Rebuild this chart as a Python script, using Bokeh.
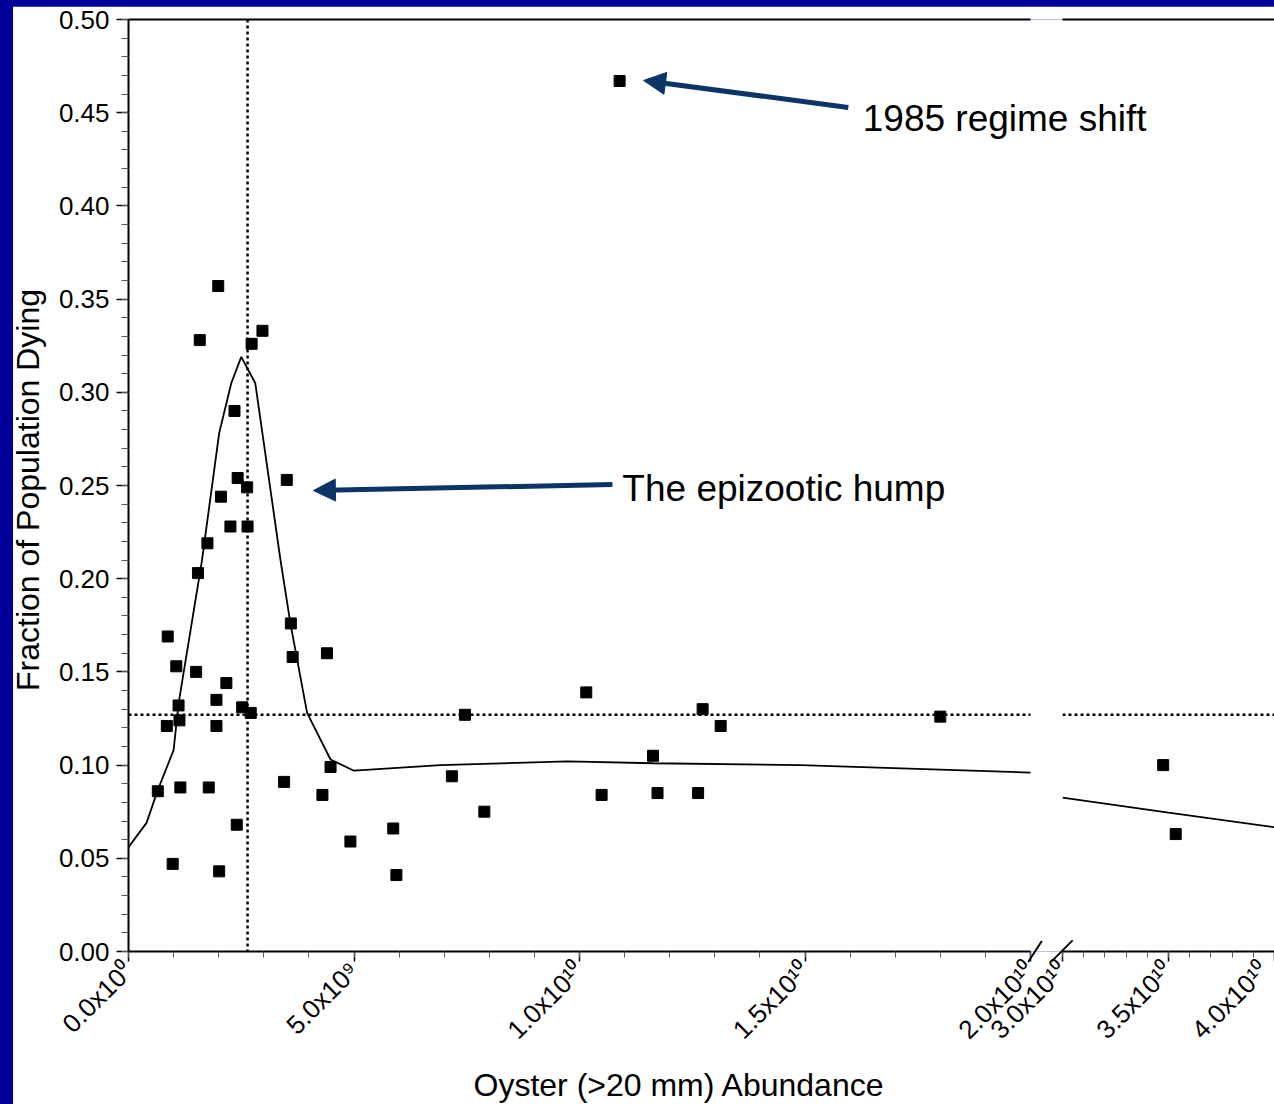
import math
from bokeh.plotting import figure
from bokeh.models import (Span, Label, Arrow, NormalHead, LinearAxis, FixedTicker, Range1d,
                          Title, Div)
from bokeh.layouts import row
from bokeh.embed import file_html
from bokeh.resources import INLINE

# ---------------- data (abundance in units of 1e9 oysters) ----------------
abundance_low = [1.99, 1.58, 2.97, 2.73, 2.35, 2.42, 2.63, 3.51, 2.05, 2.26,
                 2.64, 1.75, 1.54, 0.87, 3.60, 3.64, 4.40, 1.06, 1.50, 2.17,
                 1.95, 1.11, 2.52, 2.71, 1.13, 0.85, 1.95, 4.48, 0.65, 1.15,
                 1.78, 3.45, 4.30, 2.40, 4.92, 0.98, 2.01, 10.15, 7.46, 12.73,
                 13.13, 11.63, 7.17, 10.49, 11.73, 12.63, 7.89, 5.87, 5.94, 10.89,
                 18.00]
fraction_low = [0.357, 0.328, 0.333, 0.326, 0.290, 0.254, 0.249, 0.253, 0.244, 0.228,
                0.228, 0.219, 0.203, 0.169, 0.176, 0.158, 0.160, 0.153, 0.150, 0.144,
                0.135, 0.132, 0.131, 0.128, 0.124, 0.121, 0.121, 0.099, 0.086, 0.088,
                0.088, 0.091, 0.084, 0.068, 0.059, 0.047, 0.043, 0.139, 0.127, 0.130,
                0.121, 0.105, 0.094, 0.084, 0.085, 0.085, 0.075, 0.066, 0.041, 0.467,
                0.126]
abundance_high = [34.75, 35.34]
fraction_high = [0.100, 0.063]

model_x_low = [0.0, 0.40, 0.64, 1.00, 1.11, 1.63, 2.01, 2.28, 2.50, 2.81,
               3.37, 3.59, 3.96, 4.48, 5.00, 6.92, 9.73, 11.64, 14.90, 20.0]
model_y_low = [0.056, 0.069, 0.086, 0.108, 0.133, 0.210, 0.278, 0.305, 0.319, 0.305,
               0.210, 0.176, 0.128, 0.103, 0.097, 0.100, 0.102, 0.101, 0.100, 0.096]
model_x_high = [30.0, 35.0, 40.0]
model_y_high = [0.0825, 0.0745, 0.0667]

mean_abundance = 2.64   # vertical dotted line
mean_fraction = 0.127   # horizontal dotted line

low_axis_bounds = (0, 20)
high_axis_bounds = (30, 40)
x_ticks_low = [0, 5, 10, 15, 20]
x_labels_low = ["0.0x10\u2070", "5.0x10\u2079", "1.0x10\u00b9\u2070", "1.5x10\u00b9\u2070", "2.0x10\u00b9\u2070"]
x_ticks_high = [30, 35, 40]
x_labels_high = ["3.0x10\u00b9\u2070", "3.5x10\u00b9\u2070", "4.0x10\u00b9\u2070"]
y_ticks = [0.0, 0.05, 0.10, 0.15, 0.20, 0.25, 0.30, 0.35, 0.40, 0.45, 0.50]
y_labels = ["0.00", "0.05", "0.10", "0.15", "0.20", "0.25", "0.30", "0.35", "0.40", "0.45", "0.50"]

# ---------------- style / layout ----------------
FONT = "Liberation Sans"
NAVY = "#000099"
ARROW = "#0a3566"
TICK_FONT = "26px"
LOW_PX = 902            # pixel length of the 0 - 2e10 axis segment
FULL_PX = 1146          # frame from left axis to right window edge
HIGH_PX = 212           # pixel length of the 3e10 - 4e10 axis segment
PAGE_W = 1274


def style_axis(ax):
    ax.axis_line_color = "black"
    ax.axis_line_width = 2
    ax.major_tick_line_color = "black"
    ax.major_tick_line_width = 1.5
    ax.minor_tick_line_color = "#555555"
    ax.minor_tick_line_width = 1
    ax.major_tick_in = 0
    ax.minor_tick_in = 0
    ax.major_label_text_font = FONT
    ax.major_label_text_font_size = TICK_FONT
    ax.major_label_text_color = "black"


def top_line(p, bounds):
    ax = LinearAxis(ticker=FixedTicker(ticks=[]), bounds=bounds)
    ax.axis_line_color = "black"
    ax.axis_line_width = 2
    ax.major_tick_line_color = None
    ax.minor_tick_line_color = None
    ax.major_label_text_font_size = "0px"
    p.add_layout(ax, "above")


common = dict(frame_height=932, y_range=Range1d(0, 0.5), output_backend="svg",
              toolbar_location=None, min_border_top=13, min_border_bottom=153,
              outline_line_color=None)

# ---------------- left (0 – 2e10) panel ----------------
x_low_end = low_axis_bounds[1] * FULL_PX / LOW_PX
left = figure(frame_width=FULL_PX, x_range=Range1d(0, x_low_end), min_border_left=128,
              min_border_right=0, background_fill_color="white",
              border_fill_color="white", margin=(6, 0, 0, 0), **common)
left.grid.visible = False

xa = left.below[0]
style_axis(xa)
xa.bounds = low_axis_bounds
xa.ticker = FixedTicker(ticks=x_ticks_low, minor_ticks=list(range(0, 21)))
xa.major_label_overrides = {t: l for t, l in zip(x_ticks_low, x_labels_low)}
xa.major_label_orientation = math.pi / 4
xa.major_tick_out = 10
xa.minor_tick_out = 6

ya = left.left[0]
style_axis(ya)
ya.ticker = FixedTicker(ticks=y_ticks, minor_ticks=[i / 100 for i in range(51)])
ya.major_label_overrides = {t: l for t, l in zip(y_ticks, y_labels)}
ya.major_tick_out = 12
ya.minor_tick_out = 7
ya.major_label_standoff = 7
ya.axis_label = "Fraction  of Population Dying"
ya.axis_label_text_font = FONT
ya.axis_label_text_font_size = "32px"
ya.axis_label_text_font_style = "normal"
ya.axis_label_text_color = "black"
ya.axis_label_standoff = 10
top_line(left, low_axis_bounds)

left.add_layout(Title(text="Oyster (>20 mm) Abundance", align="left", offset=345,
                      text_font=FONT, text_font_size="32px", text_font_style="normal",
                      text_color="black", standoff=12), "below")

left.add_layout(Span(location=mean_abundance, dimension="height", line_color="black",
                     line_width=2.5, line_dash="3 3"))
left.line(list(low_axis_bounds), [mean_fraction, mean_fraction], line_color="black",
          line_width=2.5, line_dash="3 3")
left.line(model_x_low, model_y_low, line_color="black", line_width=1.8)
left.scatter(abundance_low, fraction_low, marker="square", size=11,
             fill_color="black", line_color="black")

left.add_layout(Arrow(end=NormalHead(size=22, fill_color=ARROW, line_color=ARROW),
                      x_start=15.96, y_start=0.4528, x_end=11.42, y_end=0.4673,
                      line_color=ARROW, line_width=5))
left.add_layout(Arrow(end=NormalHead(size=22, fill_color=ARROW, line_color=ARROW),
                      x_start=10.73, y_start=0.2505, x_end=4.10, y_end=0.2473,
                      line_color=ARROW, line_width=5))
left.add_layout(Label(x=16.28, y=0.4469, text="1985 regime shift", text_font=FONT,
                      text_font_size="37px", text_color="black", text_baseline="middle"))
left.add_layout(Label(x=10.95, y=0.2484, text="The epizootic hump", text_font=FONT,
                      text_font_size="37px", text_color="black", text_baseline="middle"))

# ---------------- navy strip on the left edge ----------------
strip = Div(text="", width=13, height=1104, margin=(0, 0, 0, -PAGE_W),
            styles={"background-color": NAVY})

# ---------------- axis-break marks (two rotated bars) ----------------
slash1 = Div(text="", width=2, height=25, margin=(939, 0, 0, 1034 - 13),
             styles={"background-color": "black", "transform": "rotate(33deg)"})
slash2 = Div(text="", width=2, height=30, margin=(936, 0, 0, 1061 - 1036),
             styles={"background-color": "black", "transform": "rotate(45deg)"})

# ---------------- right (3e10 – 4e10) panel ----------------
RIGHT_W = 300
right = figure(frame_width=HIGH_PX, x_range=Range1d(*high_axis_bounds),
               min_border_left=RIGHT_W - HIGH_PX, min_border_right=0,
               y_axis_location=None, background_fill_alpha=0, border_fill_alpha=0,
               margin=(6, 0, 0, -(RIGHT_W - (PAGE_W - 1063))), **common)
right.grid.visible = False
xb = right.below[0]
style_axis(xb)
xb.ticker = FixedTicker(ticks=x_ticks_high, minor_ticks=list(range(30, 41)))
xb.major_label_overrides = {t: l for t, l in zip(x_ticks_high, x_labels_high)}
xb.major_label_orientation = math.pi / 4
xb.major_tick_out = 10
xb.minor_tick_out = 6
top_line(right, high_axis_bounds)

right.add_layout(Span(location=mean_fraction, dimension="width", line_color="black",
                      line_width=2.5, line_dash="3 3"))
right.line(model_x_high, model_y_high, line_color="black", line_width=1.8)
right.scatter(abundance_high, fraction_high, marker="square", size=11,
              fill_color="black", line_color="black")

layout = row(left, strip, slash1, slash2, right, styles={"background-color": NAVY})

open("out.html", "w").write(file_html(layout, INLINE))
